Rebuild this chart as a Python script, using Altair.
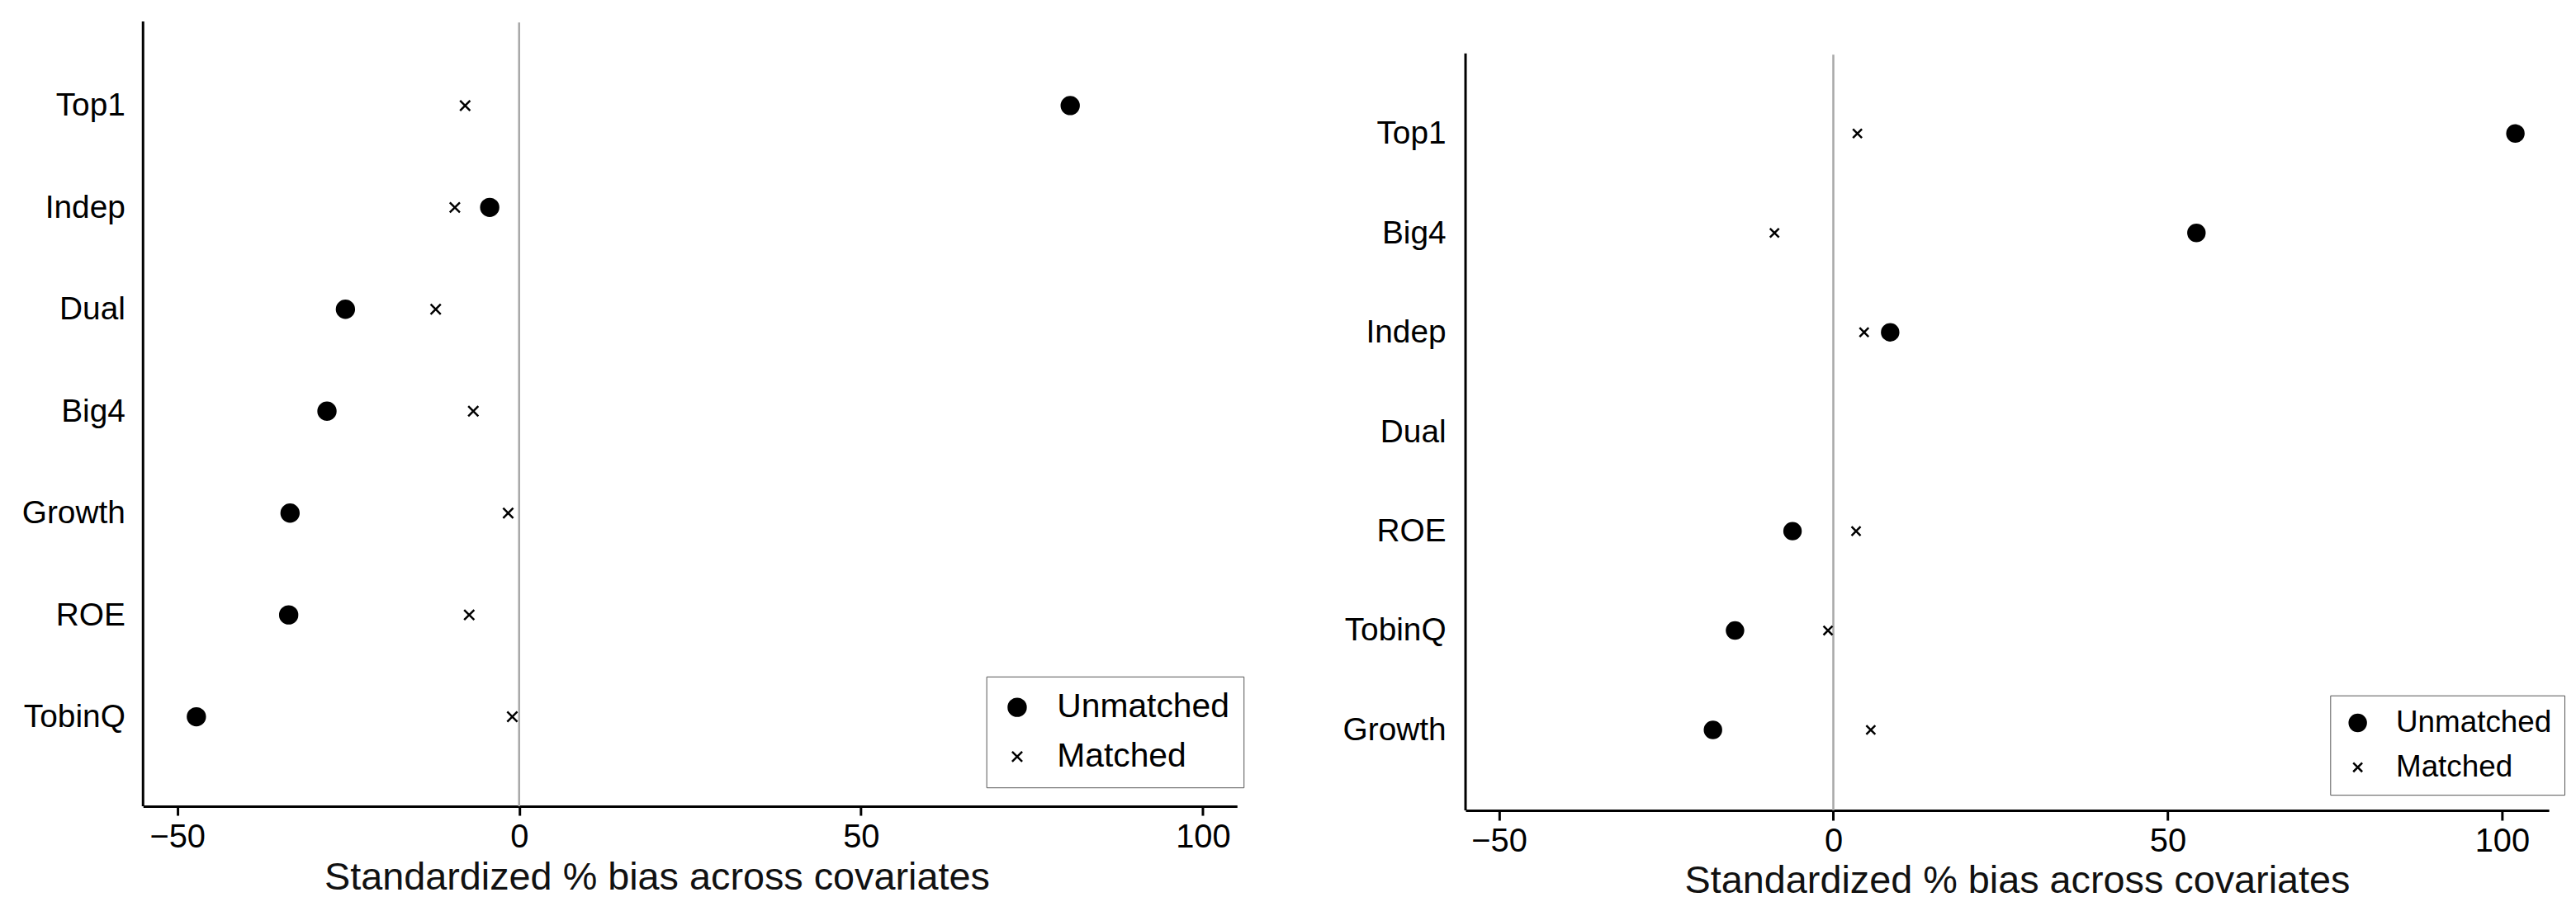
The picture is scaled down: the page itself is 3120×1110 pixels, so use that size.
import altair as alt
import pandas as pd

groups = ["Unmatched", "Matched"]

left_vars = ["Top1", "Indep", "Dual", "Big4", "Growth", "ROE", "TobinQ"]
left_unmatched = [80.6, -4.3, -25.4, -28.1, -33.5, -33.7, -47.2]
left_matched = [-7.9, -9.4, -12.2, -6.7, -1.6, -7.3, -1.0]

right_vars = ["Top1", "Big4", "Indep", "Dual", "ROE", "TobinQ", "Growth"]
right_unmatched = [102.0, 54.3, 8.5, None, -6.1, -14.7, -18.0]
right_matched = [3.6, -8.8, 4.6, None, 3.4, -0.8, 5.6]

x_ticks = [-50, 0, 50, 100]
x_title = "Standardized % bias across covariates"
FONT = "Liberation Sans"
XPATH = "M-1,-1L1,1M-1,1L1,-1"


def long_df(vars_, unm, mat):
    rows = []
    for v, u, m in zip(vars_, unm, mat):
        rows.append({"var": v, "group": "Unmatched", "bias": u})
        rows.append({"var": v, "group": "Matched", "bias": m})
    return pd.DataFrame(rows)


def panel(vars_, unm, mat, width, height, xdomain, yrange, axis_top, leg, tick_size,
          label_pad_x, title_pad, title_x, sizes, ylab_pad):
    df = long_df(vars_, unm, mat)
    legend = alt.Legend(
        orient="none", legendX=leg["x"], legendY=leg["y"], title=None,
        labelFontSize=leg["font"], labelFont=FONT, labelColor="black", labelLimit=500,
        padding=leg["pad"], labelOffset=leg["offset"], rowPadding=leg["rowpad"],
        strokeColor="#555555", fillColor="white",
        symbolStrokeColor="black", symbolStrokeWidth=2.5,
    )
    xscale = alt.Scale(domain=xdomain, nice=False, zero=False)
    zero = alt.Chart(pd.DataFrame({"z": [0]})).mark_rule(
        color="#a8a8a8", strokeWidth=2.5
    ).encode(x=alt.X("z:Q", scale=xscale), y=alt.value(axis_top), y2=alt.value(height))
    yaxis_line = alt.Chart(pd.DataFrame({"z": [0]})).mark_rule(
        color="black", strokeWidth=3
    ).encode(x=alt.value(0), y=alt.value(axis_top - 1.5), y2=alt.value(height))
    pts = alt.Chart(df).mark_point(filled=False, stroke="black", strokeWidth=2.5, opacity=1).encode(
        x=alt.X("bias:Q", scale=xscale,
                axis=alt.Axis(values=x_ticks, grid=False, tickSize=tick_size, tickWidth=3,
                              domainWidth=3, domainColor="black", tickColor="black",
                              labelFontSize=40, labelPadding=label_pad_x, labelColor="black",
                              labelFont=FONT, title=x_title, titleFontSize=47,
                              titleFontWeight="normal", titleFont=FONT, titleColor="#111111",
                              titlePadding=title_pad, titleX=title_x)),
        y=alt.Y("var:N", sort=vars_, scale=alt.Scale(domain=vars_, range=yrange, padding=0),
                axis=alt.Axis(ticks=False, grid=False, domain=False,
                              labelFontSize=39, labelPadding=ylab_pad, labelColor="black",
                              labelFont=FONT, title=None)),
        shape=alt.Shape("group:N", scale=alt.Scale(domain=groups, range=["circle", XPATH]), legend=legend),
        fill=alt.Fill("group:N", scale=alt.Scale(domain=groups, range=["black", "transparent"]), legend=legend),
        stroke=alt.Stroke("group:N", scale=alt.Scale(domain=groups, range=["black", "black"]), legend=legend),
        size=alt.Size("group:N", scale=alt.Scale(domain=groups, range=sizes), legend=legend),
    )
    return alt.layer(zero, yaxis_line, pts).properties(width=width, height=height)


left = panel(left_vars, left_unmatched, left_matched, 1331, 954, [-55, 105], [101, 845], 0,
             {"x": 1026, "y": 796, "font": 41, "pad": 17, "offset": 28, "rowpad": 18},
             11, 7, 6, 625, [440, 150], 22)

right = panel(right_vars, right_unmatched, right_matched, 1318, 959, [-55, 107], [135, 861], 39,
              {"x": 1052, "y": 819, "font": 37, "pad": 15, "offset": 28, "rowpad": 16},
              12, 6, 5, 671, [400, 120], 24)

chart = alt.hconcat(left, right, spacing=119).resolve_scale(
    shape="independent", fill="independent", size="independent", stroke="independent",
    x="independent", y="independent"
).resolve_legend(shape="independent", fill="independent", size="independent",
                 stroke="independent").properties(
    padding={"left": 18, "top": 14, "right": 5, "bottom": 5}
).configure_view(stroke=None)

chart.save("out.html", embed_options={"renderer": "svg", "actions": False})
